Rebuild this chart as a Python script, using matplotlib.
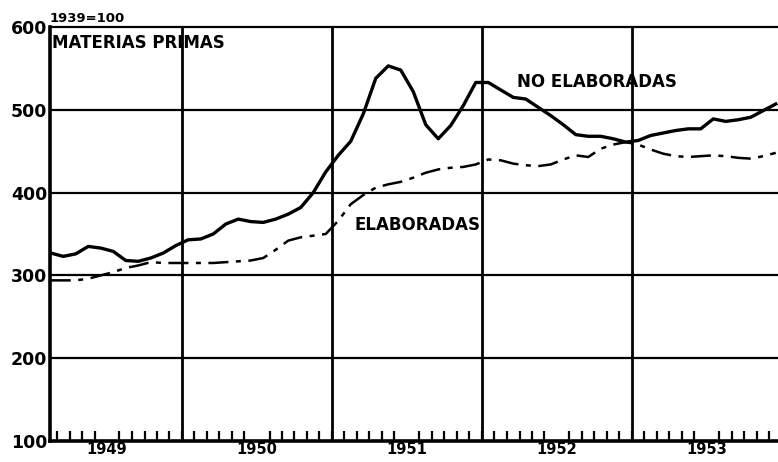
import matplotlib
matplotlib.use('Agg')
import matplotlib.pyplot as plt
import numpy as np

# indices 1939=100, monthly, Feb 1949 - Dec 1953
no_elaboradas = [327, 323, 326, 335, 333, 329, 318, 317, 321, 327, 336,
                 343, 344, 350, 362, 368, 365, 364, 368, 374, 382, 400, 425,
                 445, 462, 495, 538, 553, 548, 522, 482, 465, 481, 505, 533,
                 533, 524, 515, 513, 503, 493, 482, 470, 468, 468, 465, 461,
                 463, 469, 472, 475, 477, 477, 489, 486, 488, 491, 499, 507]
elaboradas = [294, 294, 294, 296, 300, 304, 309, 312, 316, 315, 315,
              315, 315, 315, 316, 317, 318, 321, 331, 342, 346, 348, 350,
              366, 386, 397, 406, 410, 413, 418, 424, 428, 430, 431, 434,
              440, 439, 435, 433, 432, 434, 440, 445, 443, 453, 458, 461,
              458, 452, 447, 444, 443, 444, 445, 444, 442, 441, 444, 448]
years = ["1949", "1950", "1951", "1952", "1953"]
yticks = [100, 200, 300, 400, 500, 600]

# month positions measured from Jan 1949, points at mid-month
months = np.arange(1, len(no_elaboradas) + 1) + 0.5

fig = plt.figure(figsize=(7.78, 4.62), dpi=100)
ax = fig.add_axes([50 / 778, 1 - 441 / 462, 728 / 778, 414 / 462])

ax.set_xlim(1.44, 59.68)
ax.set_ylim(100, 600)

# grid
for v in yticks[1:-1]:
    ax.axhline(v, color="black", lw=1.6, zorder=1)
for k in range(1, len(years)):
    ax.axvline(12 * k, color="black", lw=2.0, zorder=1)

ax.plot(months, no_elaboradas, color="black", lw=2.4, solid_joinstyle="round", zorder=3)
ax.plot(months, elaboradas, color="black", lw=1.8, dashes=(8, 3, 2, 3), zorder=3)

# spines
for side in ["left", "bottom"]:
    ax.spines[side].set_linewidth(2.6)
ax.spines["top"].set_linewidth(1.6)
ax.spines["right"].set_visible(False)

# y axis labels
ax.set_yticks(yticks)
ax.set_yticklabels([str(v) for v in yticks], fontsize=12.5, fontweight="bold")
ax.tick_params(axis="y", length=0, pad=2)

# monthly ticks pointing inward, year labels centered
ax.set_xticks(np.arange(2, 60), minor=True)
ax.set_xticks([6 + 12 * i for i in range(len(years))])
ax.set_xticklabels(years, fontsize=10.5, fontweight="bold")
ax.tick_params(axis="x", which="major", length=0, pad=1)
ax.tick_params(axis="x", which="minor", direction="in", length=7, width=1.6)

ax.text(0.0, 1.005, "1939=100", transform=ax.transAxes, fontsize=9.5,
        fontweight="bold", ha="left", va="bottom")
ax.text(1.6, 591, "MATERIAS PRIMAS", fontsize=12, fontweight="bold", va="top")
ax.text(38.8, 533, "NO ELABORADAS", fontsize=12, fontweight="bold", va="center")
ax.text(25.8, 361, "ELABORADAS", fontsize=12, fontweight="bold", va="center")

fig.savefig("out.png", dpi=100)
plt.close()
